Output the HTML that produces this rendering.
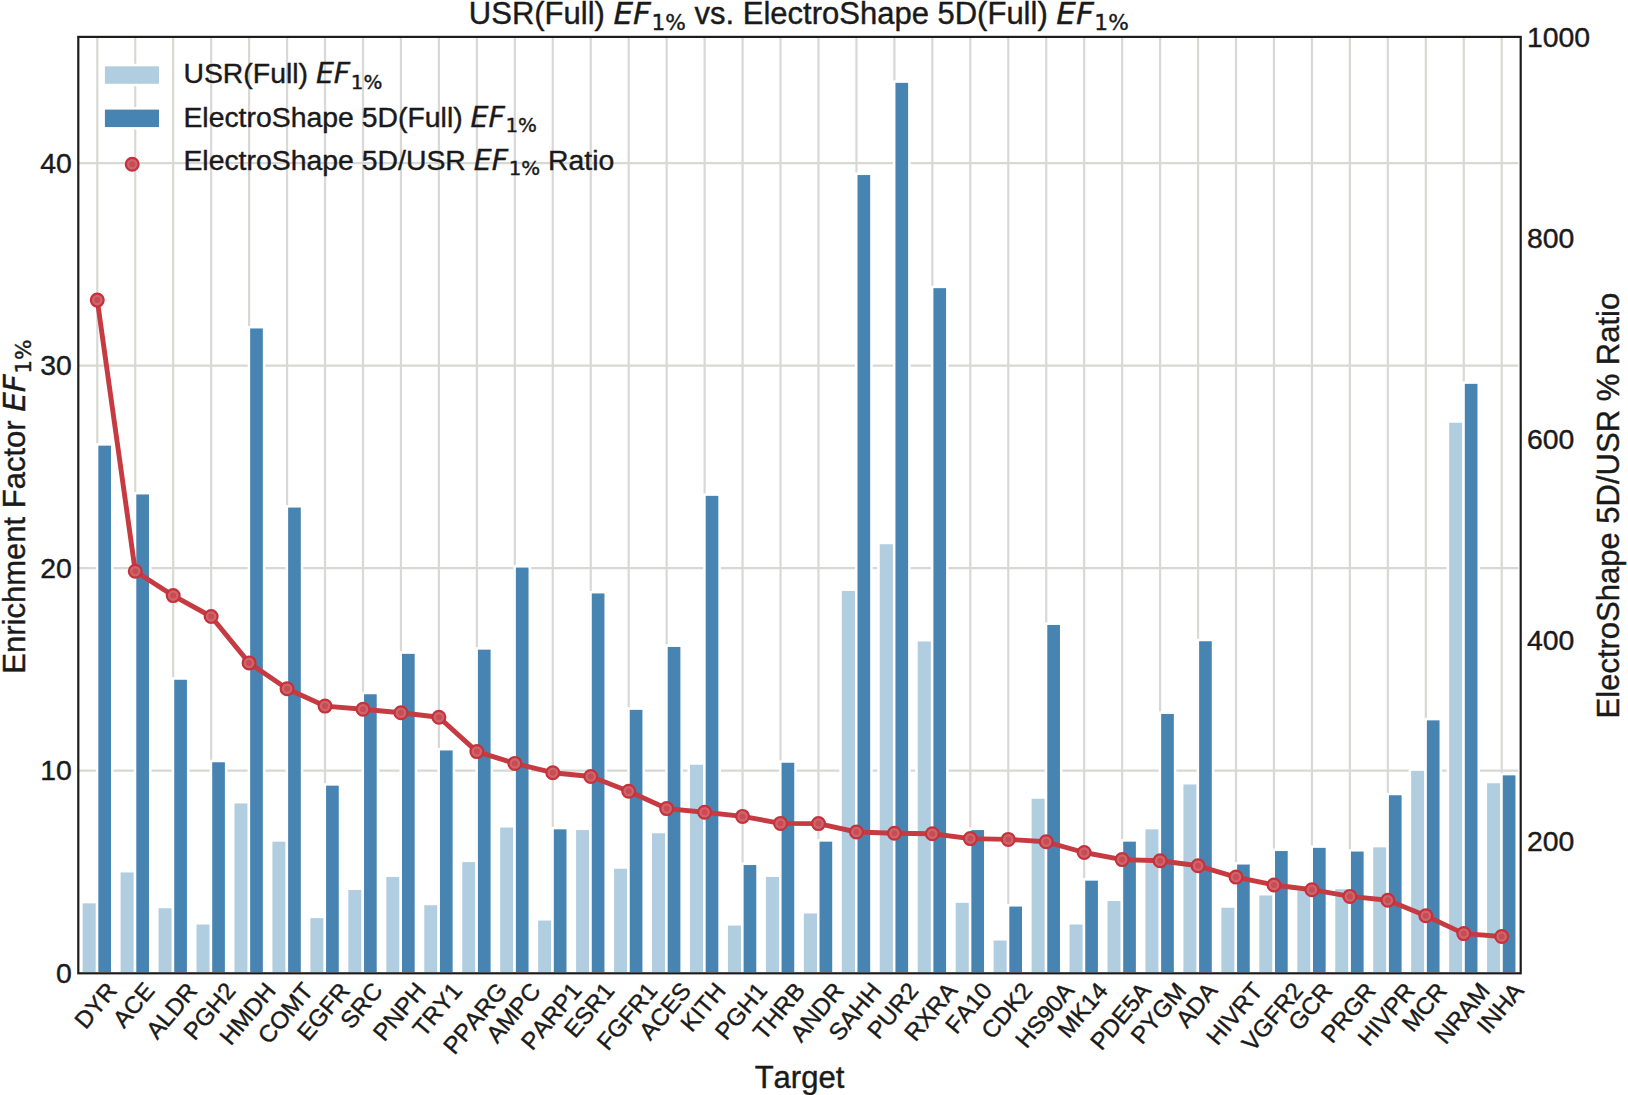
<!DOCTYPE html>
<html lang="en"><head><meta charset="utf-8"><title>USR(Full) EF1% vs. ElectroShape 5D(Full) EF1%</title>
<style>html,body{margin:0;padding:0;background:#fff}svg{display:block}</style></head>
<body>
<svg width="1628" height="1095" viewBox="0 0 1628 1095" font-family="'Liberation Sans', Arial, sans-serif" fill="#1a1a1a" style="font-kerning:none"><style>text{stroke:#1a1a1a;stroke-width:0.4px;stroke-linejoin:round}</style>
<rect width="1628" height="1095" fill="#fff"/>
<path d="M97.28 36.9V973.3M135.24 36.9V973.3M173.19 36.9V973.3M211.15 36.9V973.3M249.11 36.9V973.3M287.07 36.9V973.3M325.03 36.9V973.3M362.98 36.9V973.3M400.94 36.9V973.3M438.90 36.9V973.3M476.86 36.9V973.3M514.82 36.9V973.3M552.77 36.9V973.3M590.73 36.9V973.3M628.69 36.9V973.3M666.65 36.9V973.3M704.61 36.9V973.3M742.56 36.9V973.3M780.52 36.9V973.3M818.48 36.9V973.3M856.44 36.9V973.3M894.39 36.9V973.3M932.35 36.9V973.3M970.31 36.9V973.3M1008.27 36.9V973.3M1046.23 36.9V973.3M1084.18 36.9V973.3M1122.14 36.9V973.3M1160.10 36.9V973.3M1198.06 36.9V973.3M1236.02 36.9V973.3M1273.97 36.9V973.3M1311.93 36.9V973.3M1349.89 36.9V973.3M1387.85 36.9V973.3M1425.81 36.9V973.3M1463.76 36.9V973.3M1501.72 36.9V973.3M78.3 770.55H1518.2M78.3 568.10H1518.2M78.3 365.65H1518.2M78.3 163.20H1518.2" stroke="#d8d8d5" stroke-width="2.2" fill="none"/>
<g stroke="#fff" stroke-width="2.5">
<rect x="81.40" y="902.10" width="15.68" height="71.20" fill="#b1cde0"/>
<rect x="97.08" y="444.40" width="15.18" height="528.90" fill="#4884b2"/>
<rect x="119.35" y="871.20" width="15.68" height="102.10" fill="#b1cde0"/>
<rect x="135.04" y="493.20" width="15.18" height="480.10" fill="#4884b2"/>
<rect x="157.31" y="907.00" width="15.68" height="66.30" fill="#b1cde0"/>
<rect x="172.99" y="678.50" width="15.18" height="294.80" fill="#4884b2"/>
<rect x="195.27" y="923.30" width="15.68" height="50.00" fill="#b1cde0"/>
<rect x="210.95" y="761.00" width="15.18" height="212.30" fill="#4884b2"/>
<rect x="233.23" y="802.20" width="15.68" height="171.10" fill="#b1cde0"/>
<rect x="248.91" y="327.20" width="15.18" height="646.10" fill="#4884b2"/>
<rect x="271.19" y="840.40" width="15.68" height="132.90" fill="#b1cde0"/>
<rect x="286.87" y="506.30" width="15.18" height="467.00" fill="#4884b2"/>
<rect x="309.14" y="916.90" width="15.68" height="56.40" fill="#b1cde0"/>
<rect x="324.83" y="784.40" width="15.18" height="188.90" fill="#4884b2"/>
<rect x="347.10" y="888.70" width="15.68" height="84.60" fill="#b1cde0"/>
<rect x="362.78" y="693.00" width="15.18" height="280.30" fill="#4884b2"/>
<rect x="385.06" y="875.70" width="15.68" height="97.60" fill="#b1cde0"/>
<rect x="400.74" y="652.60" width="15.18" height="320.70" fill="#4884b2"/>
<rect x="423.02" y="904.00" width="15.68" height="69.30" fill="#b1cde0"/>
<rect x="438.70" y="749.20" width="15.18" height="224.10" fill="#4884b2"/>
<rect x="460.97" y="860.90" width="15.68" height="112.40" fill="#b1cde0"/>
<rect x="476.66" y="648.40" width="15.18" height="324.90" fill="#4884b2"/>
<rect x="498.93" y="826.30" width="15.68" height="147.00" fill="#b1cde0"/>
<rect x="514.62" y="566.30" width="15.18" height="407.00" fill="#4884b2"/>
<rect x="536.89" y="919.30" width="15.68" height="54.00" fill="#b1cde0"/>
<rect x="552.57" y="828.10" width="15.18" height="145.20" fill="#4884b2"/>
<rect x="574.85" y="828.80" width="15.68" height="144.50" fill="#b1cde0"/>
<rect x="590.53" y="592.20" width="15.18" height="381.10" fill="#4884b2"/>
<rect x="612.81" y="867.50" width="15.68" height="105.80" fill="#b1cde0"/>
<rect x="628.49" y="708.60" width="15.18" height="264.70" fill="#4884b2"/>
<rect x="650.76" y="832.00" width="15.68" height="141.30" fill="#b1cde0"/>
<rect x="666.45" y="645.70" width="15.18" height="327.60" fill="#4884b2"/>
<rect x="688.72" y="763.50" width="15.68" height="209.80" fill="#b1cde0"/>
<rect x="704.41" y="494.60" width="15.18" height="478.70" fill="#4884b2"/>
<rect x="726.68" y="924.30" width="15.68" height="49.00" fill="#b1cde0"/>
<rect x="742.36" y="863.80" width="15.18" height="109.50" fill="#4884b2"/>
<rect x="764.64" y="875.70" width="15.68" height="97.60" fill="#b1cde0"/>
<rect x="780.32" y="761.50" width="15.18" height="211.80" fill="#4884b2"/>
<rect x="802.60" y="912.20" width="15.68" height="61.10" fill="#b1cde0"/>
<rect x="818.28" y="840.40" width="15.18" height="132.90" fill="#4884b2"/>
<rect x="840.55" y="589.70" width="15.68" height="383.60" fill="#b1cde0"/>
<rect x="856.24" y="173.80" width="15.18" height="799.50" fill="#4884b2"/>
<rect x="878.51" y="543.00" width="15.68" height="430.30" fill="#b1cde0"/>
<rect x="894.19" y="81.60" width="15.18" height="891.70" fill="#4884b2"/>
<rect x="916.47" y="640.20" width="15.68" height="333.10" fill="#b1cde0"/>
<rect x="932.15" y="286.90" width="15.18" height="686.40" fill="#4884b2"/>
<rect x="954.43" y="901.60" width="15.68" height="71.70" fill="#b1cde0"/>
<rect x="970.11" y="828.80" width="15.18" height="144.50" fill="#4884b2"/>
<rect x="992.39" y="939.30" width="15.68" height="34.00" fill="#b1cde0"/>
<rect x="1008.07" y="905.30" width="15.18" height="68.00" fill="#4884b2"/>
<rect x="1030.34" y="797.50" width="15.68" height="175.80" fill="#b1cde0"/>
<rect x="1046.03" y="623.70" width="15.18" height="349.60" fill="#4884b2"/>
<rect x="1068.30" y="923.30" width="15.68" height="50.00" fill="#b1cde0"/>
<rect x="1083.98" y="879.40" width="15.18" height="93.90" fill="#4884b2"/>
<rect x="1106.26" y="899.80" width="15.68" height="73.50" fill="#b1cde0"/>
<rect x="1121.94" y="840.40" width="15.18" height="132.90" fill="#4884b2"/>
<rect x="1144.22" y="828.10" width="15.68" height="145.20" fill="#b1cde0"/>
<rect x="1159.90" y="712.70" width="15.18" height="260.60" fill="#4884b2"/>
<rect x="1182.17" y="783.20" width="15.68" height="190.10" fill="#b1cde0"/>
<rect x="1197.86" y="640.00" width="15.18" height="333.30" fill="#4884b2"/>
<rect x="1220.13" y="906.50" width="15.68" height="66.80" fill="#b1cde0"/>
<rect x="1235.82" y="863.30" width="15.18" height="110.00" fill="#4884b2"/>
<rect x="1258.09" y="894.20" width="15.68" height="79.10" fill="#b1cde0"/>
<rect x="1273.77" y="849.80" width="15.18" height="123.50" fill="#4884b2"/>
<rect x="1296.05" y="889.30" width="15.68" height="84.00" fill="#b1cde0"/>
<rect x="1311.73" y="846.60" width="15.18" height="126.70" fill="#4884b2"/>
<rect x="1334.01" y="888.00" width="15.68" height="85.30" fill="#b1cde0"/>
<rect x="1349.69" y="850.30" width="15.18" height="123.00" fill="#4884b2"/>
<rect x="1371.96" y="846.10" width="15.68" height="127.20" fill="#b1cde0"/>
<rect x="1387.65" y="794.00" width="15.18" height="179.30" fill="#4884b2"/>
<rect x="1409.92" y="769.60" width="15.68" height="203.70" fill="#b1cde0"/>
<rect x="1425.61" y="719.10" width="15.18" height="254.20" fill="#4884b2"/>
<rect x="1447.88" y="421.50" width="15.68" height="551.80" fill="#b1cde0"/>
<rect x="1463.56" y="382.60" width="15.18" height="590.70" fill="#4884b2"/>
<rect x="1485.84" y="782.00" width="15.68" height="191.30" fill="#b1cde0"/>
<rect x="1501.52" y="774.10" width="15.18" height="199.20" fill="#4884b2"/>
</g>
<polyline points="97.28,300.10 135.24,571.20 173.19,595.60 211.15,616.50 249.11,662.90 287.07,688.80 325.03,706.10 362.98,709.30 400.94,712.70 438.90,717.20 476.86,751.60 514.82,763.40 552.77,772.70 590.73,776.50 628.69,791.30 666.65,808.60 704.61,812.30 742.56,816.40 780.52,823.40 818.48,823.60 856.44,832.00 894.39,833.20 932.35,833.70 970.31,838.60 1008.27,839.40 1046.23,841.80 1084.18,852.50 1122.14,859.60 1160.10,860.80 1198.06,865.80 1236.02,877.10 1273.97,885.00 1311.93,889.70 1349.89,896.40 1387.85,900.30 1425.81,915.80 1463.76,933.60 1501.72,936.50" fill="none" stroke="#c63a42" stroke-width="4.9" stroke-linejoin="round" stroke-linecap="round"/>
<g fill="#cd666c" stroke="#c5323c" stroke-width="2.2">
<circle cx="97.28" cy="300.10" r="6.4"/>
<circle cx="135.24" cy="571.20" r="6.4"/>
<circle cx="173.19" cy="595.60" r="6.4"/>
<circle cx="211.15" cy="616.50" r="6.4"/>
<circle cx="249.11" cy="662.90" r="6.4"/>
<circle cx="287.07" cy="688.80" r="6.4"/>
<circle cx="325.03" cy="706.10" r="6.4"/>
<circle cx="362.98" cy="709.30" r="6.4"/>
<circle cx="400.94" cy="712.70" r="6.4"/>
<circle cx="438.90" cy="717.20" r="6.4"/>
<circle cx="476.86" cy="751.60" r="6.4"/>
<circle cx="514.82" cy="763.40" r="6.4"/>
<circle cx="552.77" cy="772.70" r="6.4"/>
<circle cx="590.73" cy="776.50" r="6.4"/>
<circle cx="628.69" cy="791.30" r="6.4"/>
<circle cx="666.65" cy="808.60" r="6.4"/>
<circle cx="704.61" cy="812.30" r="6.4"/>
<circle cx="742.56" cy="816.40" r="6.4"/>
<circle cx="780.52" cy="823.40" r="6.4"/>
<circle cx="818.48" cy="823.60" r="6.4"/>
<circle cx="856.44" cy="832.00" r="6.4"/>
<circle cx="894.39" cy="833.20" r="6.4"/>
<circle cx="932.35" cy="833.70" r="6.4"/>
<circle cx="970.31" cy="838.60" r="6.4"/>
<circle cx="1008.27" cy="839.40" r="6.4"/>
<circle cx="1046.23" cy="841.80" r="6.4"/>
<circle cx="1084.18" cy="852.50" r="6.4"/>
<circle cx="1122.14" cy="859.60" r="6.4"/>
<circle cx="1160.10" cy="860.80" r="6.4"/>
<circle cx="1198.06" cy="865.80" r="6.4"/>
<circle cx="1236.02" cy="877.10" r="6.4"/>
<circle cx="1273.97" cy="885.00" r="6.4"/>
<circle cx="1311.93" cy="889.70" r="6.4"/>
<circle cx="1349.89" cy="896.40" r="6.4"/>
<circle cx="1387.85" cy="900.30" r="6.4"/>
<circle cx="1425.81" cy="915.80" r="6.4"/>
<circle cx="1463.76" cy="933.60" r="6.4"/>
<circle cx="1501.72" cy="936.50" r="6.4"/>
</g>
<g fill="#c94b54"><circle cx="97.28" cy="300.10" r="3"/><circle cx="135.24" cy="571.20" r="3"/><circle cx="173.19" cy="595.60" r="3"/><circle cx="211.15" cy="616.50" r="3"/><circle cx="249.11" cy="662.90" r="3"/><circle cx="287.07" cy="688.80" r="3"/><circle cx="325.03" cy="706.10" r="3"/><circle cx="362.98" cy="709.30" r="3"/><circle cx="400.94" cy="712.70" r="3"/><circle cx="438.90" cy="717.20" r="3"/><circle cx="476.86" cy="751.60" r="3"/><circle cx="514.82" cy="763.40" r="3"/><circle cx="552.77" cy="772.70" r="3"/><circle cx="590.73" cy="776.50" r="3"/><circle cx="628.69" cy="791.30" r="3"/><circle cx="666.65" cy="808.60" r="3"/><circle cx="704.61" cy="812.30" r="3"/><circle cx="742.56" cy="816.40" r="3"/><circle cx="780.52" cy="823.40" r="3"/><circle cx="818.48" cy="823.60" r="3"/><circle cx="856.44" cy="832.00" r="3"/><circle cx="894.39" cy="833.20" r="3"/><circle cx="932.35" cy="833.70" r="3"/><circle cx="970.31" cy="838.60" r="3"/><circle cx="1008.27" cy="839.40" r="3"/><circle cx="1046.23" cy="841.80" r="3"/><circle cx="1084.18" cy="852.50" r="3"/><circle cx="1122.14" cy="859.60" r="3"/><circle cx="1160.10" cy="860.80" r="3"/><circle cx="1198.06" cy="865.80" r="3"/><circle cx="1236.02" cy="877.10" r="3"/><circle cx="1273.97" cy="885.00" r="3"/><circle cx="1311.93" cy="889.70" r="3"/><circle cx="1349.89" cy="896.40" r="3"/><circle cx="1387.85" cy="900.30" r="3"/><circle cx="1425.81" cy="915.80" r="3"/><circle cx="1463.76" cy="933.60" r="3"/><circle cx="1501.72" cy="936.50" r="3"/></g>
<rect x="78.3" y="36.9" width="1442.40" height="936.40" fill="none" stroke="#1c1c1c" stroke-width="2.2"/>
<text x="71.8" y="982.80" font-size="28.4" text-anchor="end">0</text>
<text x="71.8" y="780.35" font-size="28.4" text-anchor="end">10</text>
<text x="71.8" y="577.90" font-size="28.4" text-anchor="end">20</text>
<text x="71.8" y="375.45" font-size="28.4" text-anchor="end">30</text>
<text x="71.8" y="173.00" font-size="28.4" text-anchor="end">40</text>
<text x="1527" y="47.20" font-size="28.4">1000</text>
<text x="1527" y="248.23" font-size="28.4">800</text>
<text x="1527" y="449.26" font-size="28.4">600</text>
<text x="1527" y="650.29" font-size="28.4">400</text>
<text x="1527" y="851.32" font-size="28.4">200</text>
<text transform="translate(97.28 1006.82) rotate(-50)" font-size="24" text-anchor="middle" y="6.12">DYR</text>
<text transform="translate(135.24 1006.32) rotate(-50)" font-size="24" text-anchor="middle" y="6.12">ACE</text>
<text transform="translate(173.19 1011.93) rotate(-50)" font-size="24" text-anchor="middle" y="6.12">ALDR</text>
<text transform="translate(211.15 1012.48) rotate(-50)" font-size="24" text-anchor="middle" y="6.12">PGH2</text>
<text transform="translate(249.11 1015.01) rotate(-50)" font-size="24" text-anchor="middle" y="6.12">HMDH</text>
<text transform="translate(287.07 1014.55) rotate(-50)" font-size="24" text-anchor="middle" y="6.12">COMT</text>
<text transform="translate(325.03 1012.98) rotate(-50)" font-size="24" text-anchor="middle" y="6.12">EGFR</text>
<text transform="translate(362.98 1006.82) rotate(-50)" font-size="24" text-anchor="middle" y="6.12">SRC</text>
<text transform="translate(400.94 1012.94) rotate(-50)" font-size="24" text-anchor="middle" y="6.12">PNPH</text>
<text transform="translate(438.90 1010.91) rotate(-50)" font-size="24" text-anchor="middle" y="6.12">TRY1</text>
<text transform="translate(476.86 1019.60) rotate(-50)" font-size="24" text-anchor="middle" y="6.12">PPARG</text>
<text transform="translate(514.82 1013.99) rotate(-50)" font-size="24" text-anchor="middle" y="6.12">AMPC</text>
<text transform="translate(552.77 1017.53) rotate(-50)" font-size="24" text-anchor="middle" y="6.12">PARP1</text>
<text transform="translate(590.73 1011.42) rotate(-50)" font-size="24" text-anchor="middle" y="6.12">ESR1</text>
<text transform="translate(628.69 1017.58) rotate(-50)" font-size="24" text-anchor="middle" y="6.12">FGFR1</text>
<text transform="translate(666.65 1012.43) rotate(-50)" font-size="24" text-anchor="middle" y="6.12">ACES</text>
<text transform="translate(704.61 1008.39) rotate(-50)" font-size="24" text-anchor="middle" y="6.12">KITH</text>
<text transform="translate(742.56 1012.48) rotate(-50)" font-size="24" text-anchor="middle" y="6.12">PGH1</text>
<text transform="translate(780.52 1012.43) rotate(-50)" font-size="24" text-anchor="middle" y="6.12">THRB</text>
<text transform="translate(818.48 1013.44) rotate(-50)" font-size="24" text-anchor="middle" y="6.12">ANDR</text>
<text transform="translate(856.44 1012.94) rotate(-50)" font-size="24" text-anchor="middle" y="6.12">SAHH</text>
<text transform="translate(894.39 1011.93) rotate(-50)" font-size="24" text-anchor="middle" y="6.12">PUR2</text>
<text transform="translate(932.35 1012.94) rotate(-50)" font-size="24" text-anchor="middle" y="6.12">RXRA</text>
<text transform="translate(970.31 1009.40) rotate(-50)" font-size="24" text-anchor="middle" y="6.12">FA10</text>
<text transform="translate(1008.27 1011.93) rotate(-50)" font-size="24" text-anchor="middle" y="6.12">CDK2</text>
<text transform="translate(1046.23 1016.52) rotate(-50)" font-size="24" text-anchor="middle" y="6.12">HS90A</text>
<text transform="translate(1084.18 1011.47) rotate(-50)" font-size="24" text-anchor="middle" y="6.12">MK14</text>
<text transform="translate(1122.14 1017.53) rotate(-50)" font-size="24" text-anchor="middle" y="6.12">PDE5A</text>
<text transform="translate(1160.10 1014.55) rotate(-50)" font-size="24" text-anchor="middle" y="6.12">PYGM</text>
<text transform="translate(1198.06 1006.32) rotate(-50)" font-size="24" text-anchor="middle" y="6.12">ADA</text>
<text transform="translate(1236.02 1015.01) rotate(-50)" font-size="24" text-anchor="middle" y="6.12">HIVRT</text>
<text transform="translate(1273.97 1018.08) rotate(-50)" font-size="24" text-anchor="middle" y="6.12">VGFR2</text>
<text transform="translate(1311.93 1007.88) rotate(-50)" font-size="24" text-anchor="middle" y="6.12">GCR</text>
<text transform="translate(1349.89 1013.99) rotate(-50)" font-size="24" text-anchor="middle" y="6.12">PRGR</text>
<text transform="translate(1387.85 1015.51) rotate(-50)" font-size="24" text-anchor="middle" y="6.12">HIVPR</text>
<text transform="translate(1425.81 1008.39) rotate(-50)" font-size="24" text-anchor="middle" y="6.12">MCR</text>
<text transform="translate(1463.76 1014.50) rotate(-50)" font-size="24" text-anchor="middle" y="6.12">NRAM</text>
<text transform="translate(1501.72 1009.40) rotate(-50)" font-size="24" text-anchor="middle" y="6.12">INHA</text>
<text x="798.8" y="24.4" font-size="31.0" text-anchor="middle">USR(Full) <tspan font-family="DejaVu Sans, sans-serif" font-style="italic">EF</tspan><tspan font-family="DejaVu Sans, sans-serif" font-size="21.70" dx="0.6" dy="5.89">1%</tspan><tspan dy="-5.89"> vs. ElectroShape 5D(Full) </tspan><tspan font-family="DejaVu Sans, sans-serif" font-style="italic">EF</tspan><tspan font-family="DejaVu Sans, sans-serif" font-size="21.70" dx="0.6" dy="5.89">1%</tspan></text>
<text x="799.5" y="1087.8" font-size="31.0" text-anchor="middle">Target</text>
<text transform="translate(25.3 506.5) rotate(-90)" font-size="31.0" text-anchor="middle">Enrichment Factor <tspan font-family="DejaVu Sans, sans-serif" font-style="italic">EF</tspan><tspan font-family="DejaVu Sans, sans-serif" font-size="21.70" dx="0.6" dy="5.89">1%</tspan></text>
<text transform="translate(1619.4 505.6) rotate(-90)" font-size="31.0" text-anchor="middle">ElectroShape 5D/USR % Ratio</text>
<g stroke="#fff" stroke-width="2.5"><rect x="103.65" y="65.05" width="56.6" height="20" fill="#b1cde0"/>
<rect x="103.65" y="108.35" width="56.6" height="20" fill="#4884b2"/></g>
<circle cx="132.2" cy="164.3" r="6.4" fill="#cd666c" stroke="#c5323c" stroke-width="2.2"/><circle cx="132.2" cy="164.3" r="3" fill="#c94b54"/>
<text x="183.4" y="83.2" font-size="28.4">USR(Full) <tspan font-family="DejaVu Sans, sans-serif" font-style="italic">EF</tspan><tspan font-family="DejaVu Sans, sans-serif" font-size="19.88" dx="0.6" dy="5.40">1%</tspan></text>
<text x="183.4" y="126.6" font-size="28.4">ElectroShape 5D(Full) <tspan font-family="DejaVu Sans, sans-serif" font-style="italic">EF</tspan><tspan font-family="DejaVu Sans, sans-serif" font-size="19.88" dx="0.6" dy="5.40">1%</tspan></text>
<text x="183.4" y="170.0" font-size="28.4">ElectroShape 5D/USR <tspan font-family="DejaVu Sans, sans-serif" font-style="italic">EF</tspan><tspan font-family="DejaVu Sans, sans-serif" font-size="19.88" dx="0.6" dy="5.40">1%</tspan><tspan dy="-5.40"> Ratio</tspan></text>
</svg>
</body></html>
